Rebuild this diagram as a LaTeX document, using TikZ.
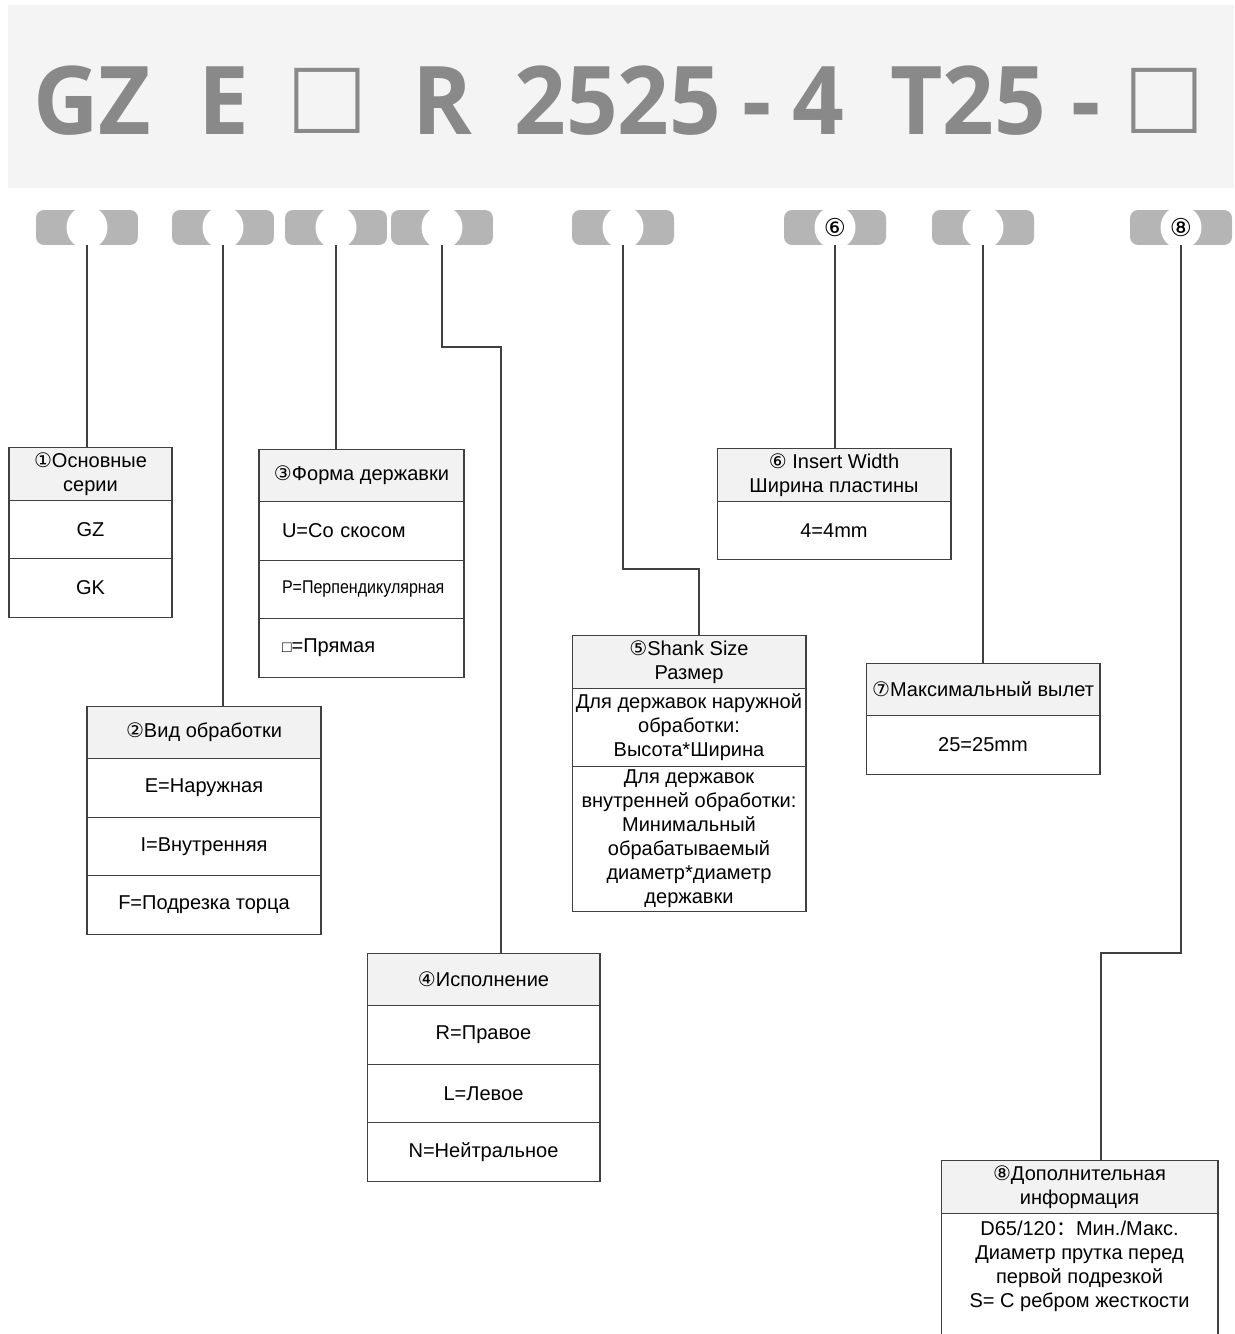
\documentclass[tikz,border=0pt]{standalone}
\usepackage{fontspec}
\setmainfont{Liberation Sans}
\newfontfamily\symfont{DejaVu Sans}
\newfontfamily\cjkfont{Noto Sans CJK SC}
\newfontfamily\bannerfont{Open Sans}[FakeStretch=0.955]
\usetikzlibrary{positioning,shapes.geometric}

\definecolor{bannerbg}{HTML}{F4F4F4}
\definecolor{bannertxt}{HTML}{898989}
\definecolor{pillgray}{HTML}{B5B5B5}
\definecolor{headgray}{HTML}{F2F2F2}
\definecolor{linegray}{HTML}{404040}

\newcommand\cellfont{\fontsize{11.4pt}{13.7pt}\selectfont}
\newcommand\cnum[1]{{\symfont #1}}
\newcommand\bigsq{{\normalfont\fontsize{62pt}{62pt}\selectfont □}}

\begin{document}
\begin{tikzpicture}[x=0.02cm, y=-0.02cm,
    banner/.style={fill=bannerbg, minimum width=24.52cm, minimum height=3.66cm, inner sep=0},
    code/.style={anchor=base west, inner sep=0, text=bannertxt, font=\bannerfont\bfseries\fontsize{54pt}{54pt}\selectfont},
    pill/.style={fill=pillgray, rounded corners=0.16cm, minimum width=2.04cm, minimum height=0.7cm, inner sep=0},
    gap/.style={ellipse, fill=white, minimum width=0.82cm, minimum height=0.86cm, inner sep=0, font=\symfont\fontsize{14pt}{14pt}\selectfont},
    tblhead/.style={draw=linegray, line width=0.6pt, fill=headgray, minimum width=#1, minimum height=1.05cm, inner sep=1pt, outer sep=0, align=center, font=\cellfont},
    tblrow/.style={draw=linegray, line width=0.6pt, minimum width=#1, minimum height=1.17cm, inner sep=1pt, outer sep=0, align=center, font=\cellfont},
    tblrowl/.style={tblrow=#1, align=left, text width=3.18cm, inner xsep=0.46cm},
    link/.style={draw=linegray, line width=0.6pt}
]
    \useasboundingbox (0,0) rectangle (1234,1334);

    \node[banner] (banner) at (621,96.5) {};
    \node[code] (cgz) at (33,135) {GZ};
    \node[code] (ce) at (198,135) {E};
    \node[code] (csq1) at (294,134) {\bigsq};
    \node[code] (cr) at (412,135) {R};
    \node[code] (csize) at (514,135) {2525};
    \node[code] (cdash1) at (742,135) {-};
    \node[code] (cw) at (792,135) {4};
    \node[code] (ct) at (890,135) {T25};
    \node[code] (cdash2) at (1071,135) {-};
    \node[code] (csq2) at (1131,134) {\bigsq};

    \node[pill] (p1) at (87,227.5) {};
    \node[gap] (g1) at (p1) {};
    \node[pill] (p2) at (223,227.5) {};
    \node[gap] (g2) at (p2) {};
    \node[pill] (p3) at (336,227.5) {};
    \node[gap] (g3) at (p3) {};
    \node[pill] (p4) at (442,227.5) {};
    \node[gap] (g4) at (p4) {};
    \node[pill] (p5) at (623,227.5) {};
    \node[gap] (g5) at (p5) {};
    \node[pill] (p6) at (835,227.5) {};
    \node[gap] (g6) at (p6) {⑥};
    \node[pill] (p7) at (983,227.5) {};
    \node[gap] (g7) at (p7) {};
    \node[pill] (p8) at (1181,227.5) {};
    \node[gap] (g8) at (p8) {⑧};

    \node[tblhead=3.26cm] (h1) at (90.5,474) {\cnum{①}Основные\\серии};
    \node[tblrow=3.26cm, below=0pt of h1] (r1a) {GZ};
    \node[tblrow=3.26cm, below=0pt of r1a] (r1b) {GK};

    \node[tblhead=4.68cm] (h2) at (204,732.5) {\cnum{②}Вид обработки};
    \node[tblrow=4.68cm, below=0pt of h2] (r2a) {E=Наружная};
    \node[tblrow=4.68cm, below=0pt of r2a] (r2b) {I=Внутренняя};
    \node[tblrow=4.68cm, below=0pt of r2b] (r2c) {F=Подрезка торца};

    \node[tblhead=4.1cm] (h3) at (361.5,475.5) {\cnum{③}Форма державки};
    \node[tblrowl=4.1cm, below=0pt of h3] (r3a) {U=Со скосом};
    \node[tblrowl=4.1cm, below=0pt of r3a] (r3b) {\scalebox{0.8}[0.92]{P=Перпендикулярная}};
    \node[tblrowl=4.1cm, below=0pt of r3b] (r3c) {{\small □}=Прямая};

    \node[tblhead=4.66cm] (h4) at (483.5,979.5) {\cnum{④}Исполнение};
    \node[tblrow=4.66cm, below=0pt of h4] (r4a) {R=Правое};
    \node[tblrow=4.66cm, below=0pt of r4a] (r4b) {L=Левое};
    \node[tblrow=4.66cm, below=0pt of r4b] (r4c) {N=Нейтральное};

    \node[tblhead=4.68cm] (h5) at (689,662) {\cnum{⑤}Shank Size\\Размер};
    \node[tblrow=4.68cm, minimum height=1.56cm, below=0pt of h5] (r5a) {Для державок наружной\\обработки:\\Высота*Ширина};
    \node[tblrow=4.68cm, minimum height=2.9cm, below=0pt of r5a] (r5b) {Для державок\\внутренней обработки:\\Минимальный\\обрабатываемый\\диаметр*диаметр\\державки};

    \node[tblhead=4.68cm] (h6) at (834,475) {\cnum{⑥} Insert Width\\Ширина пластины};
    \node[tblrow=4.68cm, below=0pt of h6] (r6a) {4=4mm};

    \node[tblhead=4.68cm] (h7) at (983,689.5) {\cnum{⑦}Максимальный вылет};
    \node[tblrow=4.68cm, below=0pt of h7] (r7a) {25=25mm};

    \node[tblhead=5.54cm] (h8) at (1079.5,1187) {\cnum{⑧}Дополнительная\\информация};
    \node[tblrow=5.54cm, minimum height=2.8cm, text depth=0.75cm, below=0pt of h8] (r8a) {D65/120{\cjkfont ：}Мин./Макс.\\Диаметр прутка перед\\первой подрезкой\\S= С ребром жесткости};

    \draw[link] (p1.south) -- (p1.south |- h1.north);
    \draw[link] (p2.south) -- (p2.south |- h2.north);
    \draw[link] (p3.south) -- (p3.south |- h3.north);
    \coordinate (k4) at (501,347);
    \draw[link] (p4.south) |- (k4) -- (k4 |- h4.north);
    \coordinate (k5) at (699,569);
    \draw[link] (p5.south) |- (k5) -- (k5 |- h5.north);
    \draw[link] (p6.south) -- (p6.south |- h6.north);
    \draw[link] (p7.south) -- (p7.south |- h7.north);
    \coordinate (k8) at (1101,953);
    \draw[link] (p8.south) |- (k8) -- (k8 |- h8.north);
\end{tikzpicture}
\end{document}
